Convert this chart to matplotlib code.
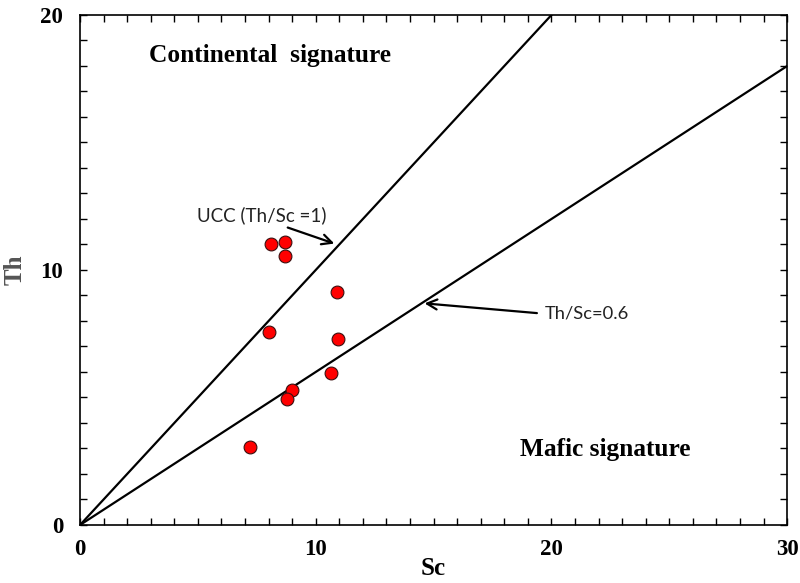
import matplotlib.pyplot as plt
from matplotlib.ticker import MultipleLocator

# Th vs Sc samples
sc = [8.1, 8.7, 8.7, 10.9, 8.0, 10.95, 10.65, 9.0, 8.8, 7.2]
th = [11.0, 11.1, 10.55, 9.15, 7.55, 7.3, 5.95, 5.3, 4.95, 3.05]

# reference ratio lines Th/Sc
ucc_ratio = 1.0
mafic_ratio = 0.6
x_line = [0, 30]

fig = plt.figure(figsize=(8, 5.83), dpi=100)
ax = fig.add_axes([0.1, 0.0995, 0.884, 0.8748])

ax.plot(x_line, [ucc_ratio * v for v in x_line], color='black', lw=1.6, zorder=2)
ax.plot(x_line, [mafic_ratio * v for v in x_line], color='black', lw=1.6, zorder=2)
ax.scatter(sc, th, s=85, c='#ff0000', edgecolors='#3a1010', linewidths=0.8, zorder=3)

ax.set_xlim(0, 30)
ax.set_ylim(0, 20)
ax.xaxis.set_major_locator(MultipleLocator(10))
ax.yaxis.set_major_locator(MultipleLocator(10))
ax.xaxis.set_minor_locator(MultipleLocator(1))
ax.yaxis.set_minor_locator(MultipleLocator(1))
ax.tick_params(which='both', direction='in', top=True, right=True, length=5, width=1.0)
ax.tick_params(axis='x', pad=10)
ax.tick_params(axis='y', pad=12)
for sp in ax.spines.values():
    sp.set_linewidth(1.2)

serif = 'Liberation Serif'
for lab in ax.get_xticklabels() + ax.get_yticklabels():
    lab.set_fontfamily(serif)
    lab.set_fontweight('bold')
    lab.set_fontsize(16.5)

ax.set_xlabel('Sc', fontfamily=serif, fontweight='bold', fontsize=18, labelpad=-2)
ax.set_ylabel('Th', fontfamily=serif, fontweight='bold', fontsize=18, color='#555555', labelpad=10)

ax.text(8.06, 18.43, 'Continental  signature', fontfamily=serif, fontweight='bold',
        fontsize=18.3, ha='center', va='center')
ax.text(22.3, 2.98, 'Mafic signature', fontfamily=serif, fontweight='bold',
        fontsize=18.3, ha='center', va='center')

ax.annotate('', xy=(10.9, 11.0), xytext=(8.7, 11.7),
            arrowprops=dict(arrowstyle='->', lw=1.6, color='black', mutation_scale=18))
ax.text(7.7, 12.15, 'UCC (Th/Sc =1)', fontfamily='Lato', fontsize=13.5, ha='center', va='center',
        color='#222222')
ax.annotate('', xy=(14.5, 8.7), xytext=(19.5, 8.3),
            arrowprops=dict(arrowstyle='->', lw=1.6, color='black', mutation_scale=18))
ax.text(19.7, 8.3, 'Th/Sc=0.6', fontfamily='Lato', fontsize=13.2, ha='left', va='center',
        color='#222222')

fig.savefig('out.png', dpi=100)
